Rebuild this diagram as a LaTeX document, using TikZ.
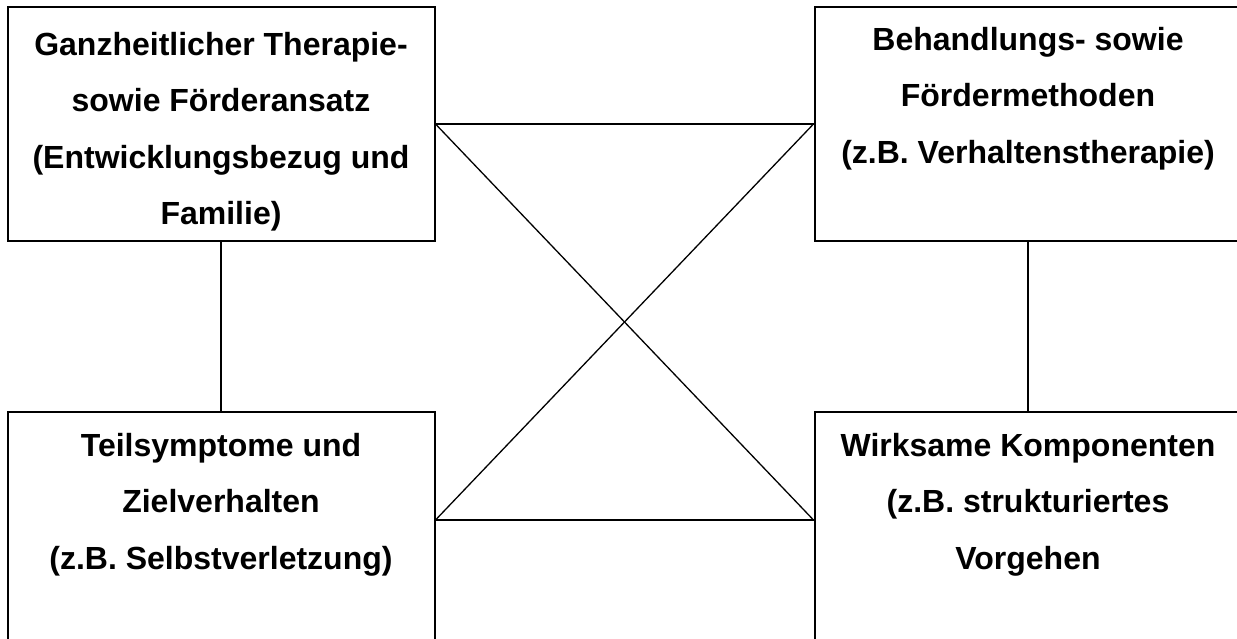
\documentclass[tikz,border=0pt]{standalone}
\usepackage{fontspec}
\setmainfont{Liberation Sans}
\usetikzlibrary{positioning}

\begin{document}
\begin{tikzpicture}[x=1pt,y=-1pt,font=\fontsize{32}{56.5}\selectfont\bfseries]
  \tikzset{feld/.style={rectangle,draw,line width=2pt,minimum width=427pt,inner sep=0pt},
    feldtext/.style={align=center,inner sep=0pt},
    verb/.style={line width=1.3pt}}
  \useasboundingbox (0,0) rectangle (1237,639);
  \clip (0,0) rectangle (1237,639);
  \node[feld,minimum height=234pt] (ganz) at (221,124) {};
  \node[feld,minimum height=234pt] (beh) at (1028,124) {};
  \node[feld,minimum height=280pt] (teil) at (221,552) {};
  \node[feld,minimum height=280pt] (wirk) at (1028,552) {};
  \node[feldtext,below=26pt of ganz.north] (ganztext) {Ganzheitlicher Therapie-\\sowie Förderansatz\\(Entwicklungsbezug und\\Familie)};
  \node[feldtext,below=21pt of beh.north] (behtext) {Behandlungs- sowie\\Fördermethoden\\(z.B. Verhaltenstherapie)};
  \node[feldtext,below=22pt of teil.north] (teiltext) {Teilsymptome und\\Zielverhalten\\(z.B. Selbstverletzung)};
  \node[feldtext,below=22pt of wirk.north] (wirktext) {Wirksame Komponenten\\(z.B. strukturiertes\\Vorgehen};
  \coordinate (teilR) at ([yshift=-109pt]teil.north east);
  \coordinate (wirkL) at ([yshift=-109pt]wirk.north west);
  \draw[verb] (ganz) -- (beh);
  \draw[verb] (ganz.east) -- (wirkL);
  \draw[verb] (beh.west) -- (teilR);
  \draw[verb] (teilR) -- (wirkL);
  \draw[verb] (ganz) -- (teil);
  \draw[verb] (beh) -- (wirk);
\end{tikzpicture}
\end{document}
